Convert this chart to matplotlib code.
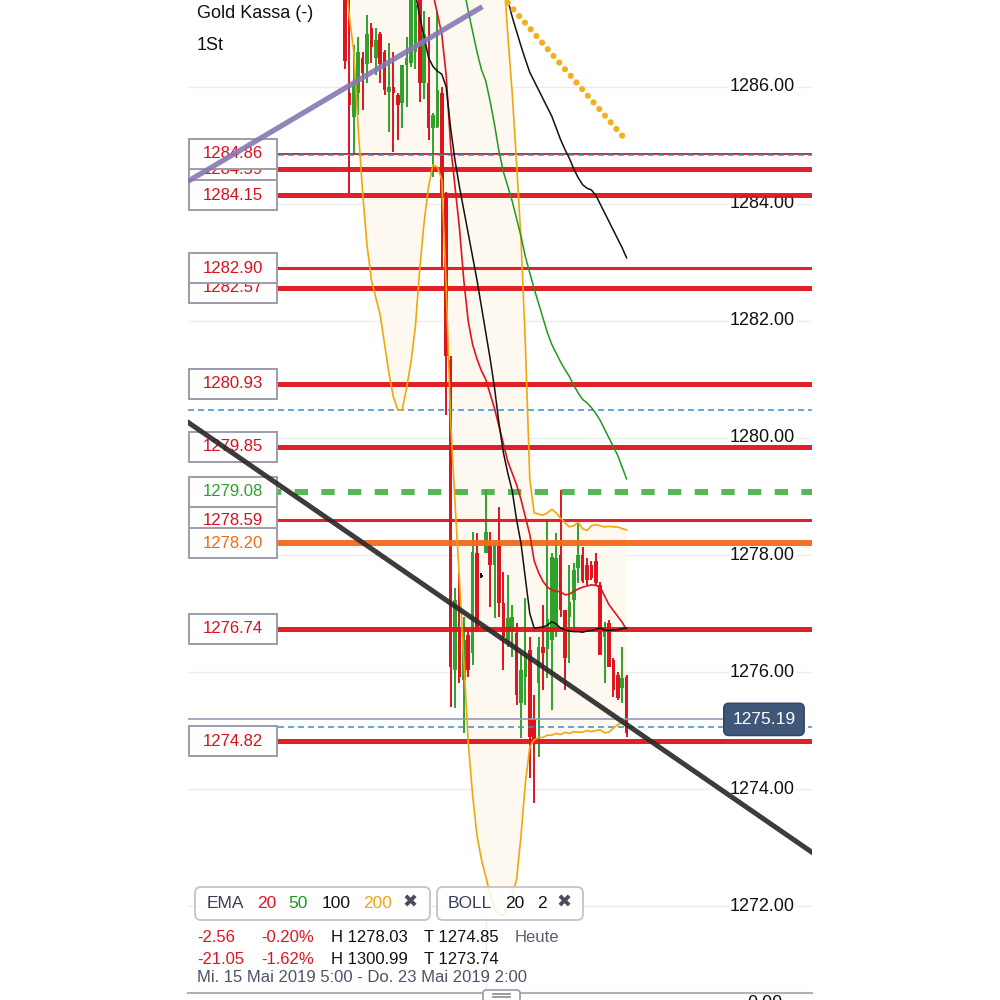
import numpy as np
import matplotlib
matplotlib.use("Agg")
import matplotlib.pyplot as plt
import matplotlib.transforms as mtransforms
from matplotlib.patches import Rectangle, FancyBboxPatch

plt.rcParams["font.family"] = ["Liberation Sans", "DejaVu Sans"]
plt.rcParams["lines.scale_dashes"] = False

# --- hourly candles (index 0..64) ---
opens = [1287.9, 1285.9, 1285.49, 1285.9, 1286.5, 1286.4, 1287.0, 1286.5, 1286.9, 1286.6,
         1285.92, 1286.0, 1285.86, 1285.73, 1286.38, 1286.41, 1286.6, 1287.5, 1286.07, 1286.07,
         1285.3, 1285.32, 1285.9, 1284.1, 1281.33, 1276.03, 1276.72, 1275.86, 1276.63, 1276.32,
         1278.03, 1277.62, 1278.03, 1278.17, 1277.83, 1278.17, 1277.18, 1276.48, 1276.7, 1276.67,
         1275.47, 1275.91, 1276.38, 1275.2, 1275.81, 1276.43, 1276.4, 1276.55, 1276.72, 1278.0,
         1277.06, 1276.94, 1277.23, 1277.78, 1278.0, 1277.83, 1277.83, 1277.9, 1277.49, 1276.6,
         1276.84, 1276.2, 1275.95, 1275.73, 1275.91]
highs = [1288.1, 1287.6, 1286.72, 1286.85, 1286.6, 1287.23, 1287.1, 1287.0, 1286.94, 1286.63,
         1286.75, 1286.6, 1285.9, 1286.38, 1286.85, 1287.6, 1287.6, 1287.6, 1287.3, 1287.2,
         1285.56, 1287.3, 1286.0, 1284.2, 1281.4, 1277.44, 1277.69, 1276.94, 1276.72, 1278.39,
         1278.38, 1277.7, 1279.11, 1278.39, 1278.2, 1278.82, 1277.71, 1277.66, 1277.15, 1276.84,
         1276.32, 1277.26, 1276.6, 1275.6, 1276.6, 1277.15, 1278.6, 1278.03, 1278.38, 1279.11,
         1277.06, 1277.83, 1277.86, 1278.6, 1278.14, 1277.95, 1277.9, 1278.03, 1277.54, 1276.85,
         1276.89, 1276.24, 1276.0, 1276.43, 1275.95]
lows = [1286.3, 1284.18, 1284.84, 1285.52, 1285.6, 1286.07, 1286.41, 1286.2, 1286.07, 1285.86,
        1285.23, 1284.89, 1285.1, 1285.3, 1285.66, 1286.34, 1286.3, 1285.74, 1285.8, 1285.09,
        1284.46, 1285.3, 1282.9, 1280.4, 1275.4, 1275.38, 1275.81, 1274.96, 1275.91, 1276.12,
        1276.68, 1277.6, 1278.03, 1277.11, 1276.92, 1276.94, 1276.03, 1276.43, 1276.26, 1275.44,
        1274.87, 1275.44, 1274.19, 1273.76, 1274.55, 1275.69, 1275.9, 1275.35, 1276.6, 1276.94,
        1275.69, 1276.15, 1276.72, 1277.52, 1277.52, 1277.49, 1277.57, 1277.49, 1276.29, 1275.81,
        1276.09, 1275.57, 1275.52, 1275.47, 1274.89]
closes = [1286.45, 1285.7, 1286.07, 1286.6, 1286.24, 1286.9, 1286.68, 1286.8, 1286.4, 1285.95,
          1286.0, 1285.9, 1285.7, 1286.37, 1286.5, 1287.5, 1287.4, 1286.07, 1286.9, 1285.3,
          1285.52, 1285.95, 1284.1, 1281.4, 1276.09, 1277.23, 1275.91, 1276.55, 1276.03, 1278.05,
          1276.72, 1277.65, 1278.39, 1277.83, 1278.17, 1277.18, 1276.6, 1276.92, 1276.94, 1275.6,
          1276.03, 1276.26, 1274.89, 1274.85, 1276.43, 1276.33, 1276.9, 1277.97, 1277.95, 1277.06,
          1276.24, 1277.2, 1277.74, 1278.0, 1277.55, 1277.57, 1277.6, 1277.52, 1276.29, 1276.77,
          1276.09, 1275.69, 1275.55, 1275.9, 1274.95]

# --- indicator lines as drawn (None = above the visible area) ---
ema20 = [None] * 19 + [
    1288.0, 1287.6, 1287.25, 1286.9, 1286.2, 1285.0, 1284.3, 1283.6, 1282.7, 1282.0,
    1281.6, 1281.35, 1281.15, 1281.0, 1280.75, 1280.5, 1280.2, 1279.9, 1279.6, 1279.4,
    1279.2, 1278.95, 1278.65, 1278.35, 1277.9, 1277.7, 1277.55, 1277.45, 1277.4, 1277.38,
    1277.37, 1277.32, 1277.33, 1277.38, 1277.42, 1277.45, 1277.47, 1277.49, 1277.48, 1277.45,
    1277.3, 1277.15, 1277.05, 1276.95, 1276.85, 1276.72]
ema50 = [None] * 27 + [
    1287.7, 1287.3, 1286.95, 1286.6, 1286.3, 1286.1, 1285.75, 1285.35, 1284.9, 1284.55,
    1284.3, 1284.05, 1283.75, 1283.45, 1283.1, 1282.82, 1282.55, 1282.3, 1282.05, 1281.8,
    1281.6, 1281.45, 1281.3, 1281.17, 1281.05, 1280.9, 1280.77, 1280.66, 1280.6, 1280.52,
    1280.42, 1280.3, 1280.15, 1280.0, 1279.85, 1279.7, 1279.5, 1279.3]
ema100 = [None] * 16 + [
    1287.6, 1287.2, 1286.85, 1286.5, 1286.35, 1286.27, 1286.22, 1286.0, 1285.3, 1284.75,
    1284.3, 1283.9, 1283.5, 1283.1, 1282.7, 1282.25, 1281.8, 1281.35, 1280.85, 1280.25,
    1279.75, 1279.4, 1279.1, 1278.6, 1278.2, 1277.6, 1277.0, 1276.75, 1276.76, 1276.77,
    1276.8, 1276.86, 1276.82, 1276.75, 1276.72, 1276.70, 1276.69, 1276.69, 1276.68, 1276.70,
    1276.71, 1276.73, 1276.75, 1276.72, 1276.71, 1276.72, 1276.72, 1276.74, 1276.75]
ema100_b = [None] * 36 + [
    1287.8, 1287.49, 1287.2, 1286.95, 1286.7, 1286.47, 1286.25, 1286.1, 1285.95, 1285.8,
    1285.65, 1285.5, 1285.3, 1285.1, 1284.93, 1284.78, 1284.6, 1284.45, 1284.33, 1284.27,
    1284.24, 1284.15, 1284.0, 1283.85, 1283.7, 1283.55, 1283.4, 1283.25, 1283.08]
boll_lower = [
    1288.0, 1287.2, 1286.6, 1285.3, 1284.2, 1283.3, 1282.7, 1282.4, 1282.1, 1281.6,
    1281.1, 1280.7, 1280.48, 1280.48, 1280.85, 1281.3, 1281.9, 1282.9, 1283.7, 1284.3,
    1284.67, 1284.63, 1284.41, 1282.6, 1280.3, 1278.9, 1277.6, 1276.2, 1274.8, 1273.9,
    1273.2, 1272.8, 1272.5, 1272.2, 1271.95, 1271.85, 1271.85, 1272.0, 1272.2, 1272.45,
    1273.2, 1274.1, 1274.72, 1274.84, 1274.88, 1274.88, 1274.92, 1274.92, 1274.95, 1274.93,
    1274.97, 1274.95, 1274.98, 1274.97, 1274.97, 1275.0, 1274.98, 1275.0, 1275.01, 1274.96,
    1274.97, 1275.04, 1275.1, 1275.13, 1275.09]
boll_upper = [None] * 36 + [
    1288.0, 1286.9, 1285.9, 1284.7, 1283.4, 1281.6, 1279.3, 1278.72, 1278.70, 1278.68,
    1278.72, 1278.78, 1278.72, 1278.63, 1278.55, 1278.48, 1278.50, 1278.56, 1278.45, 1278.42,
    1278.50, 1278.52, 1278.50, 1278.48, 1278.49, 1278.48, 1278.48, 1278.45, 1278.43]

# --- drawn levels and trend lines ---
level_prices = [1284.59, 1284.86, 1284.15, 1282.57, 1282.90, 1280.93, 1279.85,
                1278.59, 1279.08, 1278.20, 1276.74, 1274.82]
alert_prices = [1284.84, 1280.48, 1275.06]
last_price = 1275.19
purple_x, purple_y = [-35.2, 30.7], [1284.41, 1287.35]
trend_x, trend_y = [-35.7, 106.1], [1280.27, 1272.92]
dotted_x, dotted_y = [37.0, 63.2], [1287.44, 1285.15]
y_ticks = [1272, 1274, 1276, 1278, 1280, 1282, 1284, 1286]

info_row1 = ["-2.56", "-0.20%", "H 1278.03", "T 1274.85", "Heute"]
info_row2 = ["-21.05", "-1.62%", "H 1300.99", "T 1273.74"]
date_range = "Mi. 15 Mai 2019 5:00 - Do. 23 Mai 2019 2:00"


def arr(v):
    return np.array([np.nan if a is None else a for a in v], dtype=float)


RED = "#e0141e"
GREEN = "#2fa22c"
idx = np.arange(len(opens))
o, h, l, c = map(np.array, (opens, highs, lows, closes))

fig = plt.figure(figsize=(10, 10), dpi=100)
ax = fig.add_axes([0.188, 0.007, 0.624, 0.993])
ax.set_xlim(-35.68, 106.14)
ax.set_ylim(1270.513, 1287.487)
for s in ["top", "left", "right"]:
    ax.spines[s].set_visible(False)
ax.spines["bottom"].set_color("#b0b0b6")
ax.spines["bottom"].set_linewidth(1.5)
ax.set_xticks([])
ax.set_yticks([])
ytr = mtransforms.blended_transform_factory(ax.transAxes, ax.transData)

# grid + price axis labels
for p in y_ticks:
    ax.axhline(p, color="#ebebeb", lw=1.0, zorder=0.5)
    ax.text(0.9207, p, f"{p:.2f}", transform=ytr, ha="center", va="center",
            fontsize=13, color="#111111", zorder=2,
            bbox=dict(fc="white", ec="none", pad=1.0))
ax.axvline(32, color="#ebebeb", lw=1.0, zorder=0.5)

# bollinger band fill + lines
lower = arr(boll_lower)
upper = arr(boll_upper)
ax.fill_between(idx, lower, np.where(np.isnan(upper), 1290.0, upper),
                color="#fef9f0", lw=0, zorder=1)
ax.plot(idx, lower, color="#f2a60c", lw=1.2, zorder=5)
ax.plot(idx, upper, color="#f2a60c", lw=1.2, zorder=5)

# candles
cols = np.where(np.abs(c - o) < 0.05, "#111111", np.where(c >= o, GREEN, RED))
ax.vlines(idx, l, h, colors=cols, lw=1.4, zorder=3)
ax.bar(idx, np.maximum(np.abs(c - o), 0.04), bottom=np.minimum(o, c),
       width=0.78, color=cols, lw=0, zorder=3)

# EMAs
ax.plot(idx, arr(ema20), color=RED, lw=1.2, zorder=5)
ax.plot(idx, arr(ema50), color="#1f9a1f", lw=1.1, zorder=5)
ax.plot(idx, arr(ema100), color="#111111", lw=1.1, zorder=5)
ax.plot(idx, arr(ema100_b), color="#111111", lw=1.1, zorder=5)

# horizontal levels with labels on the left
style = {1284.86: (RED, 1.4, "-"), 1282.90: (RED, 2.2, "-"), 1278.59: (RED, 2.2, "-"),
         1279.08: ("#3aaa3a", 4.3, (0, (9.6, 9.6))), 1278.20: ("#f26a1b", 4.3, "-")}
txtcol = {1279.08: "#2f9e2f", 1278.20: "#f06a14"}
for p in alert_prices:
    ax.axhline(p, color="#3a8fd0", lw=1.1, ls=(0, (4.3, 2.9)), zorder=4.2)
ax.plot([0, 0.856], [last_price, last_price], transform=ytr,
        color="#8f9db5", lw=1.2, zorder=4.1)
for k, p in enumerate(level_prices):
    col, lw, ls = style.get(p, (RED, 3.6, "-"))
    alpha = 0.85 if p == 1279.08 else 0.95
    ax.axhline(p, color=col, lw=lw, ls=ls, alpha=alpha, zorder=4)
    ax.add_patch(Rectangle((0.0016, p - 0.2564), 0.141, 0.5128, transform=ytr,
                           fc="white", ec="#9c9cab", lw=1.4, zorder=6 + k * 0.01))
    ax.text(0.0721, p, f"{p:.2f}", transform=ytr, ha="center", va="center",
            fontsize=12, color=txtcol.get(p, "#d8101c"), zorder=6.005 + k * 0.01)

# drawn trend lines
ax.plot(purple_x, purple_y, color="#8778b3", lw=3.8, alpha=0.9, zorder=7)
ax.plot(trend_x, trend_y, color="#2b2b2b", lw=3.6, alpha=0.92, zorder=7)
ax.plot(dotted_x, dotted_y, color="#f2b01e", lw=4.5, ls=(0, (0.01, 6.3)),
        dash_capstyle="round", zorder=7)

# last price tag
ax.text(0.923, last_price, f"{last_price:.2f}", transform=ytr, ha="center", va="center",
        color="white", fontsize=12.5, zorder=9,
        bbox=dict(boxstyle="round,pad=0.5,rounding_size=0.3", fc="#3f5779",
                  ec="#2f4463", lw=1))

# header
fig.text(0.197, 0.987, "Gold Kassa (-)", fontsize=13, va="center", color="#111111")
fig.text(0.197, 0.955, "1St", fontsize=13, va="center", color="#111111")

# indicator chips
for x0, w in [(0.195, 0.235), (0.437, 0.146)]:
    fig.patches.append(FancyBboxPatch((x0, 0.080), w, 0.033,
                                      boxstyle="round,pad=0,rounding_size=0.006",
                                      transform=fig.transFigure, fc=(1, 1, 1, 0.85),
                                      ec="#c4c4c8", lw=1.3))
chip = [(0.207, "EMA", "#3a3f58"), (0.257, "20", RED), (0.288, "50", "#1f9a1f"),
        (0.322, "100", "#111111"), (0.363, "200", "#f2a60c"),
        (0.448, "BOLL", "#3a3f58"), (0.505, "20", "#111111"), (0.537, "2", "#111111")]
for x, t, col in chip:
    fig.text(x, 0.097, t, fontsize=12.5, va="center", color=col)
for x in [0.402, 0.556]:
    fig.text(x, 0.097, "\u2716", fontsize=13, va="center", color="#4a4d5c")

# change / range rows
xs = [0.197, 0.261, 0.331, 0.424, 0.515]
row_cols = [RED, RED, "#111111", "#111111", "#5a5f70"]
for x, t, col in zip(xs, info_row1, row_cols):
    fig.text(x, 0.063, t, fontsize=12, va="center", color=col)
for x, t, col in zip(xs, info_row2, row_cols):
    fig.text(x, 0.041, t, fontsize=12, va="center", color=col)
fig.text(0.197, 0.022, date_range, fontsize=12, va="center", color="#4d5266")

# bottom handle and the top of the next pane's axis value
fig.patches.append(FancyBboxPatch((0.483, -0.004), 0.037, 0.014,
                                  boxstyle="round,pad=0,rounding_size=0.003",
                                  transform=fig.transFigure, fc="white",
                                  ec="#9a9aa2", lw=1.2))
for yy in [0.006, 0.003]:
    fig.add_artist(plt.Line2D([0.493, 0.510], [yy, yy], transform=fig.transFigure,
                              color="#8a8a92", lw=1.2))
fig.text(0.765, 0.005, "0.00", fontsize=13, ha="center", va="top", color="#111111")

fig.savefig("out.png", dpi=100, facecolor="white")
